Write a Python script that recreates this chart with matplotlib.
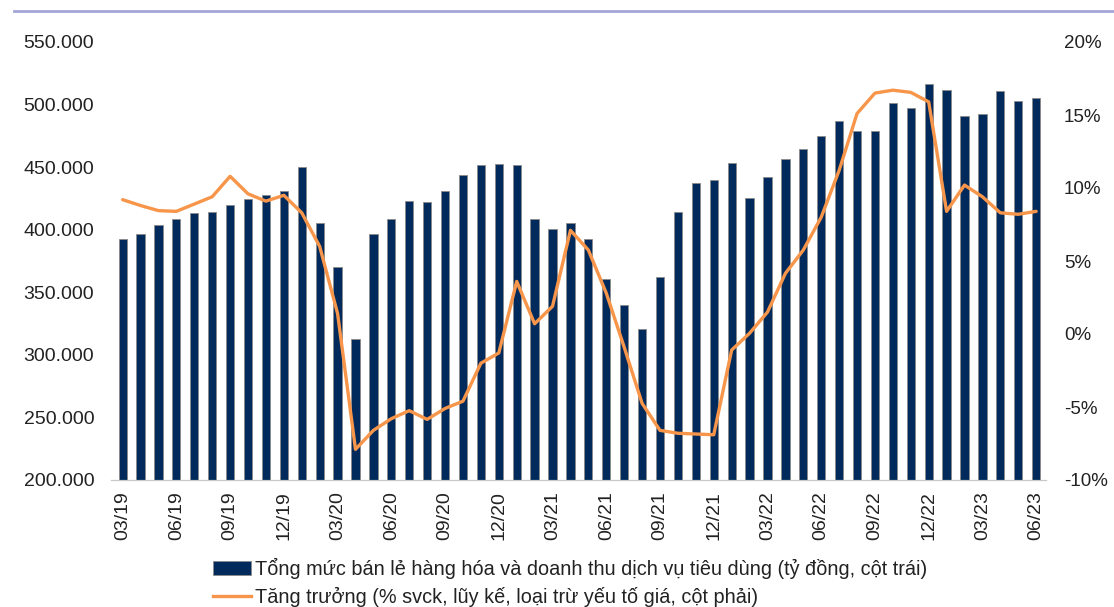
import matplotlib
matplotlib.use('agg')
import matplotlib.pyplot as plt
from matplotlib.ticker import FuncFormatter, MultipleLocator
from matplotlib.lines import Line2D
from matplotlib.patches import Patch
import numpy as np

plt.rcParams['font.family'] = ['Liberation Sans', 'DejaVu Sans']

months = ['03/19', '04/19', '05/19', '06/19', '07/19', '08/19', '09/19', '10/19', '11/19', '12/19',
          '01/20', '02/20', '03/20', '04/20', '05/20', '06/20', '07/20', '08/20', '09/20', '10/20', '11/20', '12/20',
          '01/21', '02/21', '03/21', '04/21', '05/21', '06/21', '07/21', '08/21', '09/21', '10/21', '11/21', '12/21',
          '01/22', '02/22', '03/22', '04/22', '05/22', '06/22', '07/22', '08/22', '09/22', '10/22', '11/22', '12/22',
          '01/23', '02/23', '03/23', '04/23', '05/23', '06/23']

# tỷ đồng
retail = [392500, 396700, 403700, 408700, 413300, 414300, 419600, 424200, 427400, 430800,
          450300, 405500, 370400, 312600, 396700, 408700, 422800, 422000, 430800, 443900, 451600, 452600,
          451600, 408700, 400200, 405500, 392500, 360800, 340000, 320400, 361900, 414300, 437500, 439600,
          453700, 425500, 441800, 456900, 464600, 474500, 486500, 479000, 479000, 500900, 497400, 516800,
          511500, 490700, 492300, 510700, 503000, 505100]

# % svck, lũy kế
growth = [9.2, 8.8, 8.45, 8.4, 8.9, 9.4, 10.8, 9.6, 9.1, 9.5,
          8.3, 6.0, 1.4, -7.9, -6.6, -5.8, -5.25, -5.85, -5.1, -4.6, -2.0, -1.3,
          3.6, 0.7, 1.9, 7.1, 5.75, 2.8, -0.9, -4.75, -6.6, -6.8, -6.85, -6.9,
          -1.1, 0.05, 1.5, 4.15, 5.75, 8.0, 11.2, 15.1, 16.5, 16.7, 16.55, 15.9,
          8.4, 10.2, 9.4, 8.3, 8.2, 8.4]

label_bar = 'Tổng mức bán lẻ hàng hóa và doanh thu dịch vụ tiêu dùng (tỷ đồng, cột trái)'
label_line = 'Tăng trưởng (% svck, lũy kế, loại trừ yếu tố giá, cột phải)'

navy = '#002A5C'
orange = '#F7964A'
txt = '#222222'

fig = plt.figure(figsize=(11.14, 6.07), dpi=100)
ax = fig.add_axes([111/1114, 127/607, (1046-111)/1114, (480-42)/607])

x = np.arange(len(months))
ax.bar(x, retail, width=0.46, color=navy, edgecolor='#8a8a8a', linewidth=0.6, zorder=2)
ax.set_ylim(200000, 550000)
ax.set_xlim(-0.65, len(months) - 0.45)
ax.yaxis.set_major_locator(MultipleLocator(50000))
ax.yaxis.set_major_formatter(FuncFormatter(lambda v, p: f'{v:,.0f}'.replace(',', '.')))
ax.set_xticks(x[::3])
ax.set_xticklabels(months[::3], rotation=90)

ax2 = ax.twinx()
ax2.plot(x, growth, color=orange, linewidth=2.4, solid_joinstyle='round', solid_capstyle='round', zorder=3)
ax2.set_ylim(-10, 20)
ax2.yaxis.set_major_locator(MultipleLocator(5))
ax2.yaxis.set_major_formatter(FuncFormatter(lambda v, p: f'{v:.0f}%'))

for a in (ax, ax2):
    for s in ('top', 'left', 'right'):
        a.spines[s].set_visible(False)
    a.spines['bottom'].set_color('#c8c8c8')
    a.tick_params(length=0, labelsize=14, colors=txt)
ax.tick_params(axis='y', pad=12)
ax.tick_params(axis='x', pad=8)
ax2.tick_params(axis='y', pad=13, labelsize=13.5)

# thin rule at the top of the figure
fig.add_artist(Line2D([14/1114, 1.0], [1 - 11/607, 1 - 11/607], color='#A3A6D6', linewidth=2.0))

handles = [Patch(facecolor=navy, edgecolor='#8a8a8a', linewidth=0.6),
           Line2D([0], [0], color=orange, linewidth=2.4)]
fig.legend(handles, [label_bar, label_line], loc='upper left', bbox_to_anchor=(205/1114, 1 - 550/607),
           frameon=False, fontsize=14.3, handlelength=1.9, handletextpad=0.2, labelspacing=0.38,
           borderaxespad=0, labelcolor=txt)

plt.savefig('out.png', dpi=100)
